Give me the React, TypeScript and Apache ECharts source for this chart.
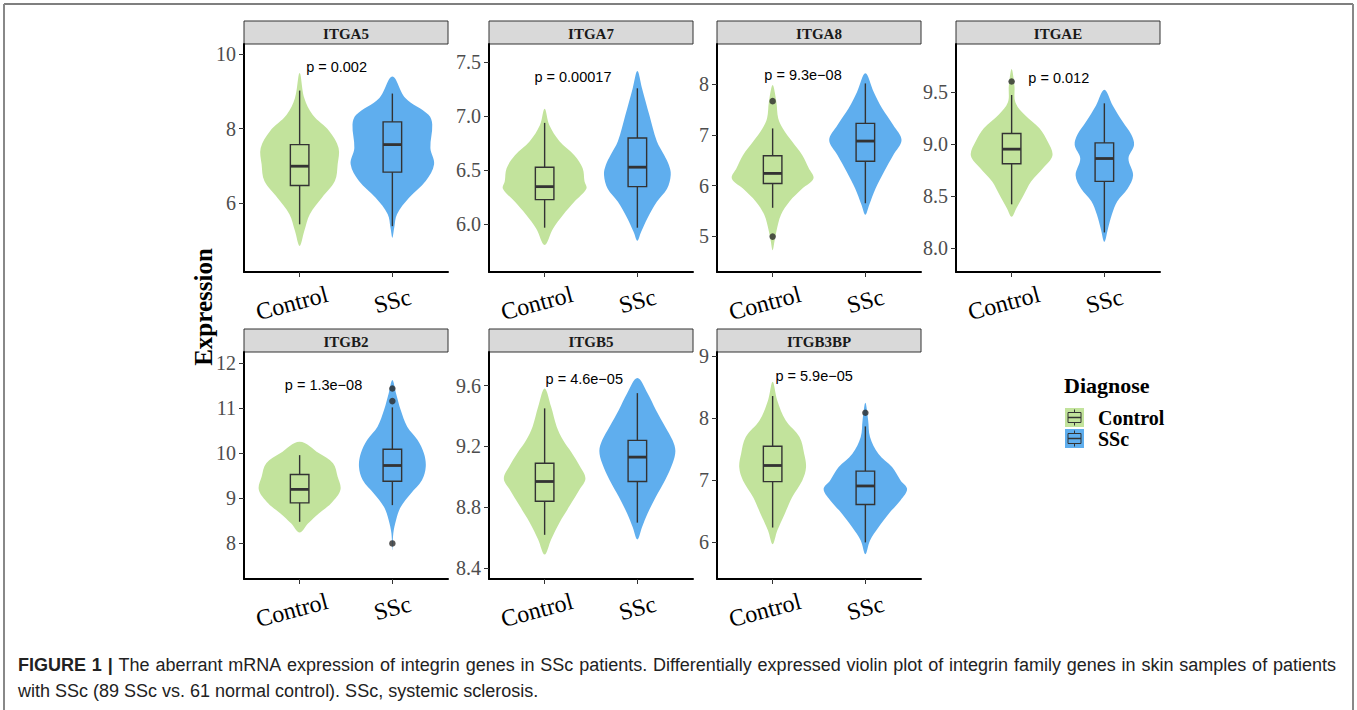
import React, { useEffect, useRef } from "react";
import * as echarts from "echarts";

const GENES = ["ITGA5", "ITGA7", "ITGA8", "ITGAE", "ITGB2", "ITGB5", "ITGB3BP"];
const GROUPS = ["Control", "SSc"];
const P_VALUES = ["p = 0.002", "p = 0.00017", "p = 9.3e\u221208", "p = 0.012", "p = 1.3e\u221208", "p = 4.6e\u221205", "p = 5.9e\u221205"];
// anchor of p label (x in group units, y in expression units)
const P_POS = [[1.07, 9.65], [0.89, 7.36], [0.91, 8.18], [1.18, 9.63], [0.84, 11.52], [1.01, 9.64], [1.03, 8.69]];

const Y_MIN = [4.15, 5.56, 4.29, 7.77, 7.21, 8.33, 5.41];
const Y_MAX = [10.27, 7.67, 8.8, 9.96, 12.25, 9.82, 9.07];
const Y_TICKS = [[6, 8, 10], [6, 6.5, 7, 7.5], [5, 6, 7, 8], [8, 8.5, 9, 9.5], [8, 9, 10, 11, 12], [8.4, 8.8, 9.2, 9.6], [6, 7, 8, 9]];
const Y_DEC = [0, 1, 0, 1, 0, 1, 0];

// [lower whisker, Q1, median, Q3, upper whisker]
const BOX_CONTROL = [
  [5.43, 6.47, 6.99, 7.57, 9.02],
  [5.97, 6.23, 6.35, 6.53, 6.94],
  [5.56, 6.04, 6.24, 6.59, 7.13],
  [8.42, 8.81, 8.95, 9.1, 9.47],
  [8.48, 8.9, 9.2, 9.53, 9.96],
  [8.62, 8.84, 8.97, 9.09, 9.45],
  [6.24, 6.98, 7.24, 7.55, 8.36],
];
const BOX_SSC = [
  [5.38, 6.83, 7.57, 8.18, 8.94],
  [5.97, 6.35, 6.53, 6.8, 7.26],
  [5.65, 6.48, 6.88, 7.23, 8.02],
  [8.15, 8.64, 8.86, 9.01, 9.39],
  [8.85, 9.38, 9.73, 10.09, 11.02],
  [8.7, 8.97, 9.13, 9.24, 9.55],
  [6.0, 6.61, 6.91, 7.15, 7.87],
];
// [gene index, group (1 Control, 2 SSc), value]
const OUTLIERS = [[2, 1, 7.67], [2, 1, 4.99], [3, 1, 9.6], [4, 2, 11.44], [4, 2, 11.16], [4, 2, 8.0], [6, 2, 8.09]];

// violin outlines: [expression, half width in group units], top to bottom
const ITGA5_CONTROL = [[9.49, 0], [8.82, 0.05], [8.37, 0.14], [7.93, 0.32], [7.48, 0.42], [7.04, 0.41], [6.59, 0.38], [6.14, 0.24], [5.7, 0.11], [5.25, 0.05], [4.85, 0]];
const ITGA5_SSC = [[9.4, 0], [8.82, 0.14], [8.37, 0.39], [8.11, 0.43], [7.48, 0.41], [7.04, 0.45], [6.59, 0.36], [6.14, 0.18], [5.7, 0.05], [5.34, 0.02], [5.07, 0]];
const ITGA7_CONTROL = [[7.07, 0], [6.92, 0.05], [6.77, 0.16], [6.64, 0.32], [6.52, 0.41], [6.4, 0.43], [6.33, 0.45], [6.21, 0.32], [6.09, 0.2], [5.96, 0.09], [5.81, 0]];
const ITGA7_SSC = [[7.42, 0], [7.26, 0.05], [7.01, 0.13], [6.77, 0.21], [6.64, 0.29], [6.55, 0.34], [6.46, 0.36], [6.33, 0.32], [6.21, 0.21], [6.06, 0.11], [5.93, 0.04], [5.85, 0]];
const ITGA8_CONTROL = [[7.99, 0], [7.66, 0.04], [7.33, 0.06], [7.13, 0.11], [6.87, 0.21], [6.6, 0.32], [6.34, 0.39], [6.14, 0.44], [5.94, 0.32], [5.68, 0.18], [5.42, 0.09], [5.09, 0.04], [4.9, 0.02], [4.72, 0]];
const ITGA8_SSC = [[8.22, 0], [7.85, 0.09], [7.53, 0.18], [7.2, 0.3], [6.9, 0.39], [6.6, 0.3], [6.27, 0.2], [5.94, 0.11], [5.61, 0.04], [5.42, 0]];
const ITGAE_CONTROL = [[9.72, 0], [9.56, 0.03], [9.4, 0.04], [9.28, 0.14], [9.15, 0.3], [9.02, 0.39], [8.89, 0.44], [8.77, 0.34], [8.64, 0.21], [8.51, 0.13], [8.38, 0.05], [8.3, 0]];
const ITGAE_SSC = [[9.52, 0], [9.37, 0.09], [9.21, 0.2], [9.09, 0.29], [8.99, 0.32], [8.86, 0.26], [8.7, 0.31], [8.57, 0.25], [8.45, 0.14], [8.32, 0.08], [8.19, 0.04], [8.06, 0]];
const ITGB2_CONTROL = [[10.26, 0], [10.0, 0.21], [9.78, 0.36], [9.48, 0.41], [9.19, 0.44], [8.89, 0.34], [8.67, 0.21], [8.44, 0.09], [8.24, 0]];
const ITGB2_SSC = [[11.63, 0], [11.33, 0.04], [10.96, 0.09], [10.59, 0.16], [10.3, 0.27], [10.0, 0.34], [9.7, 0.36], [9.41, 0.32], [9.11, 0.2], [8.81, 0.09], [8.52, 0.04], [8.22, 0.01], [7.85, 0]];
const ITGB5_CONTROL = [[9.58, 0], [9.46, 0.07], [9.33, 0.13], [9.24, 0.2], [9.16, 0.29], [9.07, 0.38], [8.99, 0.44], [8.92, 0.38], [8.81, 0.27], [8.7, 0.16], [8.59, 0.07], [8.49, 0]];
const ITGB5_SSC = [[9.65, 0], [9.55, 0.11], [9.44, 0.2], [9.33, 0.3], [9.24, 0.38], [9.17, 0.41], [9.09, 0.38], [8.98, 0.3], [8.87, 0.2], [8.76, 0.11], [8.67, 0.05], [8.59, 0]];
const ITGB3BP_CONTROL = [[8.59, 0], [8.29, 0.05], [7.97, 0.14], [7.7, 0.29], [7.43, 0.34], [7.21, 0.36], [7.0, 0.32], [6.73, 0.21], [6.46, 0.13], [6.19, 0.05], [5.97, 0]];
const ITGB3BP_SSC = [[8.25, 0], [7.97, 0.03], [7.7, 0.05], [7.43, 0.14], [7.21, 0.29], [7.0, 0.38], [6.86, 0.45], [6.68, 0.38], [6.46, 0.25], [6.24, 0.14], [6.03, 0.05], [5.81, 0]];

const VIOLIN_CONTROL = [ITGA5_CONTROL, ITGA7_CONTROL, ITGA8_CONTROL, ITGAE_CONTROL, ITGB2_CONTROL, ITGB5_CONTROL, ITGB3BP_CONTROL];
const VIOLIN_SSC = [ITGA5_SSC, ITGA7_SSC, ITGA8_SSC, ITGAE_SSC, ITGB2_SSC, ITGB5_SSC, ITGB3BP_SSC];

const CAPTION_LINE1 = "FIGURE 1 | The aberrant mRNA expression of integrin genes in SSc patients. Differentially expressed violin plot of integrin family genes in skin samples of patients";
const CAPTION_LINE2 = "with SSc (89 SSc vs. 61 normal control). SSc, systemic sclerosis.";
const CAPTION_BOLD_WORDS = 3;

const COLORS = ["#C2E39C", "#5FAEEE"];
const SERIF = '"Liberation Serif", "Times New Roman", serif';
const SANS = '"Liberation Sans", Arial, Helvetica, sans-serif';

const PANEL_LEFT = [244, 489, 717, 956];
const PANEL_TOP = [44, 352];
const PANEL_H = [228, 227];
const PANEL_W = 204;
const STRIP_H = 23;
const CAP_FS = 18;
const CAP_X0 = 18;
const CAP_X1 = 1336;

function buildCaption(graphic: any[]) {
  const ctx = document.createElement("canvas").getContext("2d")!;
  const font = (bold: boolean) => `${bold ? "bold " : ""}${CAP_FS}px ${SANS}`;
  const words = CAPTION_LINE1.split(" ");
  const widths = words.map((w, k) => {
    ctx.font = font(k < CAPTION_BOLD_WORDS);
    return ctx.measureText(w).width;
  });
  const total = widths.reduce((a, b) => a + b, 0);
  const gap = Math.max(3, (CAP_X1 - CAP_X0 - total) / (words.length - 1));
  let x = CAP_X0;
  words.forEach((w, k) => {
    graphic.push({
      type: "text",
      x,
      y: 665,
      style: { text: w, font: font(k < CAPTION_BOLD_WORDS), fill: "#222", verticalAlign: "middle", align: "left" },
    });
    x += widths[k] + gap;
  });
  graphic.push({
    type: "text",
    x: CAP_X0,
    y: 691,
    style: { text: CAPTION_LINE2, font: font(false), fill: "#222", verticalAlign: "middle", align: "left" },
  });
}

function buildOption() {
  const grid: any[] = [];
  const xAxis: any[] = [];
  const yAxis: any[] = [];
  const series: any[] = [];
  const graphic: any[] = [];

  GENES.forEach((gene, i) => {
    const row = Math.floor(i / 4);
    const col = i % 4;
    const left = PANEL_LEFT[col];
    const top = PANEL_TOP[row];
    const h = PANEL_H[row];
    grid.push({ left, top, width: PANEL_W, height: h });
    const xl = { fontFamily: SERIF, fontSize: 24, color: "#000" };
    xAxis.push({
      type: "value",
      gridIndex: i,
      min: 0.4,
      max: 2.6,
      axisLine: { show: true, onZero: false, lineStyle: { color: "#000", width: 2 } },
      axisTick: { show: true, customValues: [1, 2], length: 5, lineStyle: { color: "#333", width: 1 } },
      axisLabel: {
        customValues: [1, 2],
        formatter: (v: number) => (Math.round(v) === 1 ? `{c|${GROUPS[0]}}` : `{s|${GROUPS[1]}}`),
        rotate: 15,
        align: "center",
        verticalAlign: "middle",
        margin: 29,
        ...xl,
        rich: { c: { ...xl, padding: [0, 16, 0, 0] }, s: { ...xl } },
      },
      splitLine: { show: false },
    });
    yAxis.push({
      type: "value",
      gridIndex: i,
      min: Y_MIN[i],
      max: Y_MAX[i],
      axisLine: { show: true, onZero: false, lineStyle: { color: "#000", width: 2 } },
      axisTick: { show: true, customValues: Y_TICKS[i], length: 5, lineStyle: { color: "#333", width: 1 } },
      axisLabel: {
        customValues: Y_TICKS[i],
        formatter: (v: number) => v.toFixed(Y_DEC[i]),
        fontFamily: SERIF,
        fontSize: 20,
        color: "#4D4D4D",
        margin: 8,
      },
      splitLine: { show: false },
    });

    // violins
    series.push({
      type: "custom",
      xAxisIndex: i,
      yAxisIndex: i,
      silent: true,
      data: [[1, BOX_CONTROL[i][2]], [2, BOX_SSC[i][2]]],
      renderItem: (params: any, api: any) => {
        const g = api.value(0);
        const prof = g === 1 ? VIOLIN_CONTROL[i] : VIOLIN_SSC[i];
        const leftSide = prof.map(([y, w]) => api.coord([g - w, y]));
        const rightSide = prof.slice(1, -1).reverse().map(([y, w]) => api.coord([g + w, y]));
        return {
          type: "polygon",
          shape: { points: leftSide.concat(rightSide), smooth: 0.35 },
          style: { fill: COLORS[g - 1], stroke: null },
        };
      },
      z: 1,
    });

    // boxes
    series.push({
      type: "custom",
      xAxisIndex: i,
      yAxisIndex: i,
      silent: true,
      encode: { x: 0, y: [1, 2, 3, 4, 5] },
      data: [[1, ...BOX_CONTROL[i]], [2, ...BOX_SSC[i]]],
      renderItem: (params: any, api: any) => {
        const g = api.value(0);
        const lo = api.value(1), q1 = api.value(2), med = api.value(3), q3 = api.value(4), hi = api.value(5);
        const hw = 0.1;
        const pHi = api.coord([g, hi]);
        const pQ3 = api.coord([g, q3]);
        const pQ1 = api.coord([g, q1]);
        const pLo = api.coord([g, lo]);
        const tl = api.coord([g - hw, q3]);
        const br = api.coord([g + hw, q1]);
        const ml = api.coord([g - hw, med]);
        const mr = api.coord([g + hw, med]);
        const stroke = "#333";
        return {
          type: "group",
          children: [
            { type: "line", shape: { x1: pHi[0], y1: pHi[1], x2: pQ3[0], y2: pQ3[1] }, style: { stroke, lineWidth: 1.4 } },
            { type: "line", shape: { x1: pQ1[0], y1: pQ1[1], x2: pLo[0], y2: pLo[1] }, style: { stroke, lineWidth: 1.4 } },
            { type: "rect", shape: { x: tl[0], y: tl[1], width: br[0] - tl[0], height: br[1] - tl[1] }, style: { fill: "none", stroke, lineWidth: 1.4 } },
            { type: "line", shape: { x1: ml[0], y1: ml[1], x2: mr[0], y2: mr[1] }, style: { stroke, lineWidth: 2.8 } },
          ],
        };
      },
      z: 2,
    });

    // outliers
    series.push({
      type: "scatter",
      xAxisIndex: i,
      yAxisIndex: i,
      silent: true,
      symbolSize: 6.5,
      itemStyle: { color: "#2B2B2B" },
      data: OUTLIERS.filter((o) => o[0] === i).map((o) => [o[1], o[2]]),
      z: 3,
    });

    // p-value label
    series.push({
      type: "custom",
      xAxisIndex: i,
      yAxisIndex: i,
      silent: true,
      data: [P_POS[i]],
      renderItem: (params: any, api: any) => {
        const p = api.coord([api.value(0), api.value(1)]);
        return {
          type: "text",
          x: p[0],
          y: p[1],
          style: { text: P_VALUES[i], fill: "#000", font: `14.5px ${SANS}`, align: "left", verticalAlign: "middle" },
        };
      },
      z: 4,
    });

    // strip
    graphic.push({
      type: "rect",
      shape: { x: left, y: top - STRIP_H, width: PANEL_W, height: STRIP_H },
      style: { fill: "#D9D9D9", stroke: "#333", lineWidth: 1 },
    });
    graphic.push({
      type: "text",
      x: left + PANEL_W / 2,
      y: top - STRIP_H / 2 + 1,
      style: { text: gene, fill: "#1A1A1A", font: `bold 15px ${SERIF}`, align: "center", verticalAlign: "middle" },
    });
  });

  // frame
  graphic.push({ type: "line", shape: { x1: 4, y1: 4, x2: 1353, y2: 4 }, style: { stroke: "#555", lineWidth: 1.5 } });
  graphic.push({ type: "line", shape: { x1: 4, y1: 4, x2: 4, y2: 710 }, style: { stroke: "#888", lineWidth: 2 } });
  graphic.push({ type: "line", shape: { x1: 1353, y1: 4, x2: 1353, y2: 710 }, style: { stroke: "#888", lineWidth: 2 } });

  // y title
  graphic.push({
    type: "text",
    x: 203,
    y: 307,
    rotation: Math.PI / 2,
    style: { text: "Expression", fill: "#000", font: `bold 25px ${SERIF}`, align: "center", verticalAlign: "middle" },
  });

  // legend
  graphic.push({
    type: "text",
    x: 1064,
    y: 385,
    style: { text: "Diagnose", fill: "#000", font: `bold 22px ${SERIF}`, align: "left", verticalAlign: "middle" },
  });
  GROUPS.forEach((g, k) => {
    const y0 = 408 + k * 21;
    graphic.push({ type: "rect", shape: { x: 1065, y: y0, width: 19, height: 19 }, style: { fill: COLORS[k], stroke: null } });
    graphic.push({ type: "line", shape: { x1: 1074.5, y1: y0 + 1.5, x2: 1074.5, y2: y0 + 17.5 }, style: { stroke: "#333", lineWidth: 1 } });
    graphic.push({ type: "rect", shape: { x: 1068, y: y0 + 4.5, width: 13, height: 10 }, style: { fill: COLORS[k], stroke: "#333", lineWidth: 1 } });
    graphic.push({ type: "line", shape: { x1: 1068, y1: y0 + 9.5, x2: 1081, y2: y0 + 9.5 }, style: { stroke: "#333", lineWidth: 1.5 } });
    graphic.push({
      type: "text",
      x: 1098,
      y: y0 + 10,
      style: { text: g, fill: "#000", font: `bold 20px ${SERIF}`, align: "left", verticalAlign: "middle" },
    });
  });

  // caption
  buildCaption(graphic);

  return { animation: false, backgroundColor: "#fff", grid, xAxis, yAxis, series, graphic };
}

export default function App() {
  const ref = useRef<HTMLDivElement>(null);
  useEffect(() => {
    document.body.style.margin = "0";
    const chart = echarts.init(ref.current!, undefined, { renderer: "svg" });
    chart.setOption(buildOption() as any);
    return () => chart.dispose();
  }, []);
  return <div ref={ref} style={{ width: 1357, height: 710, position: "absolute", left: 0, top: 0 }} />;
}
